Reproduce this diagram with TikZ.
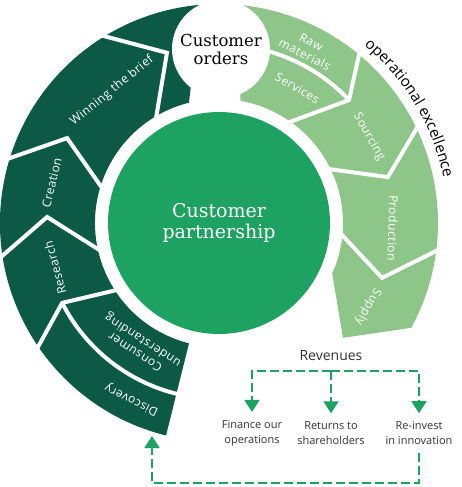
\documentclass[tikz,border=0pt]{standalone}
\usepackage{fontspec}
\usetikzlibrary{arrows.meta,decorations.text}
\newfontfamily\labelfont{Open Sans}
\newfontfamily\steplabelfont[LetterSpace=4]{Open Sans}
\newfontfamily\headfont{DejaVu Serif}
\newcommand\opfont{\labelfont\fontsize{15}{17}\selectfont}
\definecolor{darkleaf}{HTML}{0C5A45}
\definecolor{midleaf}{HTML}{1EA262}
\definecolor{lightleaf}{HTML}{8EC689}
\definecolor{inkgray}{HTML}{333333}

\begin{document}
\begin{tikzpicture}[x=1pt, y=1pt,
  gapline/.style={draw=white, line width=4pt, line join=miter},
  seglabel/.style={text=white, font=\steplabelfont\fontsize{12}{14}\selectfont, align=center, inner sep=0pt},
  sumtext/.style={text=inkgray, font=\labelfont\fontsize{11}{15}\selectfont, align=center, inner sep=8pt},
  flowline/.style={draw=midleaf, line width=1.6pt, dash pattern=on 9pt off 4pt, -{Triangle[width=15pt,length=12pt]}}]
% Ring radii
\def\rin{124}
\def\rout{219}
\useasboundingbox (-219,-264) rectangle (243,223);

% Left half of the ring (dark) and right half (light)
\fill[darkleaf] (256:\rout) arc[start angle=256, end angle=95, radius=\rout] -- (104:\rin) arc[start angle=104, end angle=256, radius=\rin] -- cycle;
\fill[lightleaf] (85:\rout) arc[start angle=85, end angle=-28.6, radius=\rout] -- (-42.8:169) -- (-24.1:\rin) arc[start angle=-24.1, end angle=80, radius=\rin] -- cycle;

% White gaps between the steps
\draw[gapline] (122.7:224) -- (107:178) -- (122.8:118);
\draw[gapline] (163.7:224) -- (150.8:174) -- (164.9:118);
\draw[gapline] (189.4:224) -- (178:172) -- (195:118);
\draw[gapline] (215:224) -- (207:176) -- (214:118);
\draw[gapline] (207:176) arc[start angle=207, end angle=260, radius=176];
\draw[gapline] (50.9:224) -- (43.4:179) -- (56.8:118);
\draw[gapline] (43.4:179) arc[start angle=43.4, end angle=90, radius=177];
\draw[gapline] (26.4:224) -- (15.2:175) -- (27.6:118);
\draw[gapline] (-6.5:224) -- (-18.6:172) -- (-3.1:118);

% The two circles
\node[circle, fill=white, minimum size=98pt, inner sep=0pt, align=center, font=\headfont\fontsize{16.5}{18}\selectfont] (orders) at (2,174) {Customer\\orders};
\node[circle, fill=midleaf, minimum size=222pt, inner sep=0pt, align=center, text=white, font=\headfont\fontsize{19}{21}\selectfont] (partner) at (0,0) {Customer\\partnership};

% Step labels
\node[seglabel, rotate=39] (win) at (129:170) {Winning the brief};
\node[seglabel, rotate=76.5] (cre) at (166.5:172) {Creation};
\node[seglabel, rotate=105.3] (res) at (195.3:170) {Research};
\node[seglabel, rotate=147] (con) at (237:146) {Consumer\\understanding};
\node[seglabel, rotate=153.7] (dis) at (243.7:197) {Discovery};
\node[seglabel, rotate=-27] (raw) at (63:196) {Raw\\materials};
\node[seglabel, rotate=-30.2] (ser) at (59.8:156) {Services};
\node[seglabel, rotate=-60.2] (sou) at (29.8:173) {Sourcing};
\node[seglabel, rotate=-91.7] (pro) at (-1.7:174) {Production};
\node[seglabel, rotate=-119.4] (sup) at (-29.4:171) {Supply};

% Text round the outside
\path[decorate, decoration={text along path, text align=center, text={|\opfont|operational excellence}}] (58:229) arc[start angle=58, end angle=4, radius=229];

% Revenues and where they go
\node[text=inkgray, font=\labelfont\fontsize{14}{16}\selectfont] (rev) at (112,-133) {Revenues};
\coordinate (split) at (112,-148);
\node[sumtext] (fin) at (33,-210) {Finance our\\operations};
\node[sumtext] (ret) at (112,-210) {Returns to\\shareholders};
\node[sumtext] (rei) at (200,-210) {Re-invest\\in innovation};
\draw[flowline] (split) -| (fin.north);
\draw[flowline] (split) -- (ret.north);
\draw[flowline] (split) -| (rei.north);
\coordinate (low) at (-67,-260);
\coordinate (back) at (-67,-213);
\draw[flowline] (rei.south) |- (low) -- (back);
\end{tikzpicture}
\end{document}
